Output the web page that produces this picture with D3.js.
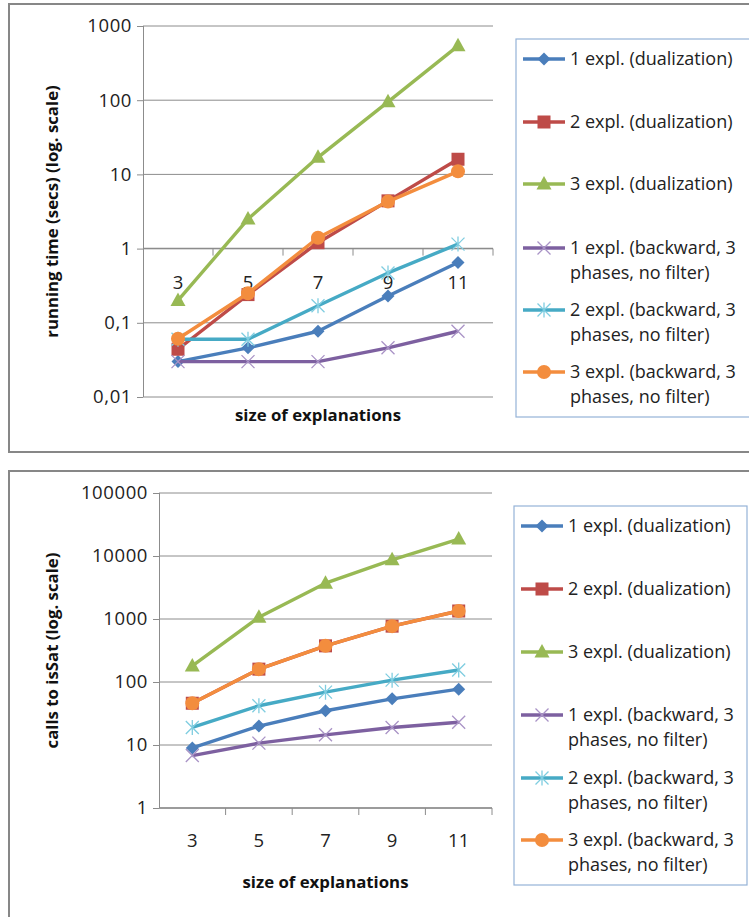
<!DOCTYPE html>
<html>
<head>
<meta charset="utf-8">
<title>Explanations</title>
<style>
  body { margin: 0; background: #fff; }
  svg { display: block; font-family: "Open Sans", "Lato", sans-serif; }
</style>
<script src="https://d3js.org/d3.v7.min.js"></script>
</head>
<body>
<svg></svg>
<script>
const sizes = ["3", "5", "7", "9", "11"];

const seriesNames = [
  "1 expl. (dualization)",
  "2 expl. (dualization)",
  "3 expl. (dualization)",
  "1 expl. (backward, 3|phases, no filter)",
  "2 expl. (backward, 3|phases, no filter)",
  "3 expl. (backward, 3|phases, no filter)"
];
const colors = ["#4A7EBB", "#BE4B48", "#98B954", "#7D60A0", "#46AAC5", "#F38D3E"];
const markers = ["diamond", "square", "triangle", "x", "star", "circle"];

// running time (secs)
const timeDual1 = [0.03, 0.046, 0.077, 0.23, 0.65];
const timeDual2 = [0.044, 0.24, 1.2, 4.4, 16];
const timeDual3 = [0.2, 2.5, 17, 95, 540];
const timeBack1 = [0.03, 0.03, 0.03, 0.046, 0.077];
const timeBack2 = [0.06, 0.06, 0.17, 0.47, 1.15];
const timeBack3 = [0.061, 0.25, 1.4, 4.3, 11];
const timeTicks = [0.01, 0.1, 1, 10, 100, 1000];
const timeTickLabels = ["0,01", "0,1", "1", "10", "100", "1000"];

// calls to isSat
const callsDual1 = [9, 20, 35, 54, 77];
const callsDual2 = [46, 160, 375, 770, 1340];
const callsDual3 = [180, 1070, 3700, 8700, 18600];
const callsBack1 = [6.8, 10.7, 14.5, 19, 23];
const callsBack2 = [19, 42, 69, 107, 155];
const callsBack3 = [46, 160, 375, 770, 1340];
const callsTicks = [1, 10, 100, 1000, 10000, 100000];
const callsTickLabels = ["1", "10", "100", "1000", "10000", "100000"];

const W = 749, H = 917;
const svg = d3.select("svg").attr("width", W).attr("height", H);

const gridColor = "#8c8c8c";

function marker(g, type, color, cx, cy) {
  const s = g.append("g").attr("transform", "translate(" + cx + "," + cy + ")");
  if (type === "diamond") {
    s.append("path").attr("d", "M0,-6.5L6.5,0L0,6.5L-6.5,0Z").attr("fill", color);
  } else if (type === "square") {
    s.append("rect").attr("x", -6.5).attr("y", -6.5).attr("width", 13).attr("height", 13).attr("fill", color);
  } else if (type === "triangle") {
    s.append("path").attr("d", "M0,-8L7.5,5.5L-7.5,5.5Z").attr("fill", color);
  } else if (type === "circle") {
    s.append("circle").attr("r", 7).attr("fill", color);
  } else if (type === "x") {
    s.append("path").attr("d", "M-6.5,-6.5L6.5,6.5M-6.5,6.5L6.5,-6.5").attr("stroke", "#A993C6").attr("stroke-width", 1.3);
  } else if (type === "star") {
    s.append("path").attr("d", "M-6.5,-6.5L6.5,6.5M-6.5,6.5L6.5,-6.5M0,-7.5L0,7.5").attr("stroke", "#7FCDE0").attr("stroke-width", 1.3);
  }
}

function drawChart(opt) {
  const g = svg.append("g");
  // outer frame
  g.append("rect")
    .attr("x", opt.frame[0]).attr("y", opt.frame[1])
    .attr("width", opt.frame[2]).attr("height", opt.frame[3])
    .attr("fill", "#fff").attr("stroke", "#878787").attr("stroke-width", 2);

  const x = d3.scaleBand().domain(sizes).range([opt.left, opt.right]);
  const y = d3.scaleLog().domain([opt.ticks[0], opt.ticks[opt.ticks.length - 1]]).range([opt.bottom, opt.top]);

  // gridlines
  g.append("g").selectAll("line").data(opt.ticks).join("line")
    .attr("x1", opt.left).attr("x2", opt.right)
    .attr("y1", d => y(d)).attr("y2", d => y(d))
    .attr("stroke", gridColor).attr("stroke-width", 1);

  // y axis
  const yAxis = d3.axisLeft(y).tickValues(opt.ticks)
    .tickFormat((d, i) => opt.tickLabels[i]).tickSize(6).tickPadding(5);
  const ya = g.append("g").attr("transform", "translate(" + opt.left + ",0)").call(yAxis);
  ya.select(".domain").attr("stroke", gridColor).attr("d", "M0.5," + opt.top + "V" + opt.bottom);
  ya.selectAll(".tick line").attr("stroke", gridColor);
  ya.selectAll(".tick text").attr("font-size", 18.5).attr("letter-spacing", 0.6).attr("fill", "#222")
    .attr("font-family", "'Open Sans', sans-serif");

  // x axis at the crossing value
  const xy = y(opt.crossAt);
  const edges = sizes.map(s => x(s)).concat([opt.right]);
  g.append("line").attr("x1", opt.left).attr("x2", opt.right)
    .attr("y1", xy).attr("y2", xy).attr("stroke", gridColor).attr("stroke-width", 1.5);
  g.append("g").selectAll("line").data(edges.slice(1)).join("line")
    .attr("x1", d => d).attr("x2", d => d)
    .attr("y1", xy).attr("y2", xy + 7).attr("stroke", gridColor);
  g.append("g").selectAll("text").data(sizes).join("text")
    .attr("x", d => x(d) + x.bandwidth() / 2).attr("y", opt.labelY)
    .attr("text-anchor", "middle").attr("dy", "0.35em")
    .attr("font-size", 18.5).attr("fill", "#222").text(d => d);

  // axis titles
  g.append("text").attr("x", (opt.left + opt.right) / 2).attr("y", opt.xTitleY)
    .attr("text-anchor", "middle").attr("dy", "0.35em")
    .attr("font-size", 16.8).attr("font-weight", "bold").attr("fill", "#111")
    .text("size of explanations");
  g.append("text")
    .attr("transform", "translate(52," + ((opt.top + opt.bottom) / 2) + ") rotate(-90)")
    .attr("text-anchor", "middle").attr("dy", "0.35em")
    .attr("font-size", 16.8).attr("font-weight", "bold").attr("fill", "#111")
    .text(opt.yTitle);

  // series
  const line = d3.line().x((d, i) => x(sizes[i]) + x.bandwidth() / 2).y(d => y(d));
  opt.series.forEach((vals, k) => {
    g.append("path").datum(vals).attr("d", line)
      .attr("fill", "none").attr("stroke", colors[k]).attr("stroke-width", 3.4)
      .attr("stroke-linejoin", "round");
    vals.forEach((v, i) => marker(g, markers[k], colors[k], x(sizes[i]) + x.bandwidth() / 2, y(v)));
  });

  // legend
  const lg = g.append("g");
  lg.append("rect").attr("x", opt.legend[0]).attr("y", opt.legend[1])
    .attr("width", opt.legend[2]).attr("height", opt.legend[3])
    .attr("fill", "#fff").attr("stroke", "#95B3D7").attr("stroke-width", 1.2);
  seriesNames.forEach((name, k) => {
    const ly = opt.legendRows[k];
    lg.append("line").attr("x1", opt.legend[0] + 7).attr("x2", opt.legend[0] + 49)
      .attr("y1", ly).attr("y2", ly).attr("stroke", colors[k]).attr("stroke-width", 3.4);
    marker(lg, markers[k], colors[k], opt.legend[0] + 28, ly);
    name.split("|").forEach((part, j) => {
      lg.append("text").attr("x", opt.legend[0] + 54).attr("y", ly + j * 25)
        .attr("dy", "0.35em").attr("font-size", 18).attr("fill", "#222").text(part);
    });
  });
}

drawChart({
  frame: [9, 4, 760, 448],
  left: 143, right: 493, top: 26, bottom: 397,
  ticks: timeTicks, tickLabels: timeTickLabels, crossAt: 1,
  labelY: 283, xTitleY: 415,
  yTitle: "running time (secs) (log. scale)",
  series: [timeDual1, timeDual2, timeDual3, timeBack1, timeBack2, timeBack3],
  legend: [516, 39, 240, 378],
  legendRows: [59, 122, 184, 248, 310, 372]
});

drawChart({
  frame: [9, 471, 760, 460],
  left: 159, right: 492, top: 493, bottom: 808,
  ticks: callsTicks, tickLabels: callsTickLabels, crossAt: 1,
  labelY: 841, xTitleY: 882,
  yTitle: "calls to isSat (log. scale)",
  series: [callsDual1, callsDual2, callsDual3, callsBack1, callsBack2, callsBack3],
  legend: [514, 506, 233, 379],
  legendRows: [526, 589, 652, 715, 778, 840]
});
</script>
</body>
</html>
